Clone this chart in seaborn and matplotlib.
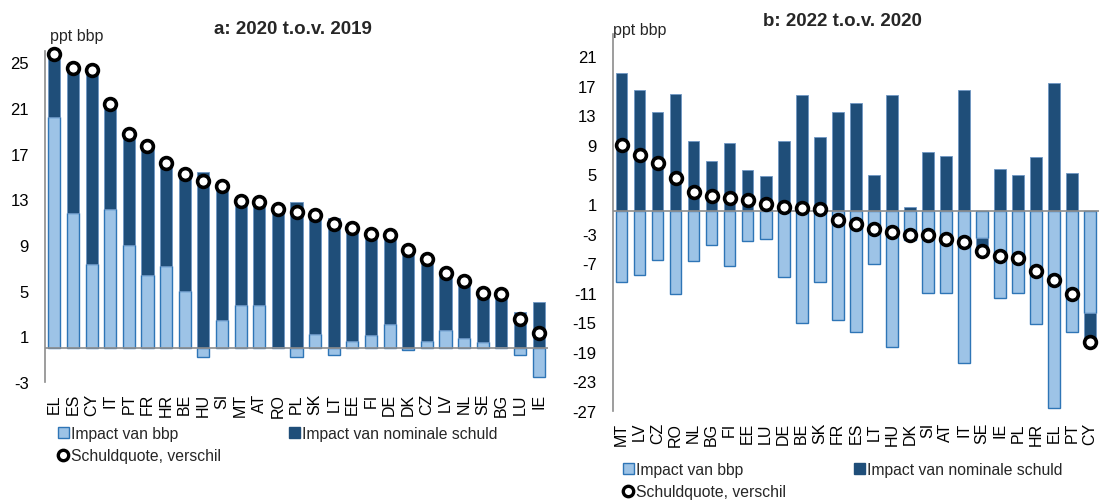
import numpy as np
import pandas as pd
import matplotlib
matplotlib.use("Agg")
import matplotlib.pyplot as plt
import seaborn as sns
from matplotlib.patches import Patch
from matplotlib.lines import Line2D

sns.set_theme(style="white")
plt.rcParams["font.family"] = ["Liberation Sans", "DejaVu Sans"]
plt.rcParams["axes.unicode_minus"] = False

# ---- Panel a: 2020 t.o.v. 2019 ----
countries_a = ["EL", "ES", "CY", "IT", "PT", "FR", "HR", "BE", "HU", "SI", "MT", "AT", "RO",
               "PL", "SK", "LT", "EE", "FI", "DE", "DK", "CZ", "LV", "NL", "SE", "BG", "LU", "IE"]
gdp_a = [20.2, 11.8, 7.3, 12.2, 9.0, 6.35, 7.15, 5.0, -0.8, 2.4, 3.75, 3.75, 0.1,
         -0.8, 1.2, -0.6, 0.6, 1.1, 2.1, -0.2, 0.6, 1.55, 0.85, 0.5, 0.05, -0.6, -2.6]
debt_a = [5.5, 12.7, 17.05, 9.2, 9.7, 11.3, 9.05, 10.2, 15.4, 11.8, 9.1, 9.0, 12.1,
          12.8, 10.4, 11.4, 9.9, 8.9, 7.75, 8.8, 7.2, 5.0, 5.0, 4.3, 4.7, 3.15, 4.0]
total_a = [25.7, 24.5, 24.35, 21.4, 18.7, 17.65, 16.2, 15.2, 14.6, 14.2, 12.85, 12.75, 12.2,
           11.9, 11.6, 10.8, 10.5, 10.0, 9.85, 8.6, 7.8, 6.55, 5.85, 4.8, 4.75, 2.5, 1.3]

# ---- Panel b: 2022 t.o.v. 2020 ----
countries_b = ["MT", "LV", "CZ", "RO", "NL", "BG", "FI", "EE", "LU", "DE", "BE", "SK", "FR",
               "ES", "LT", "HU", "DK", "SI", "AT", "IT", "SE", "IE", "PL", "HR", "EL", "PT", "CY"]
gdp_b = [-9.6, -8.6, -6.6, -11.2, -6.7, -4.6, -7.4, -4.0, -3.7, -8.9, -15.1, -9.6, -14.7,
         -16.3, -7.15, -18.4, -3.8, -11.1, -11.05, -20.45, -3.65, -11.7, -11.1, -15.2, -26.6, -16.3, -13.7]
debt_b = [18.7, 16.4, 13.4, 15.85, 9.5, 6.8, 9.3, 5.6, 4.8, 9.5, 15.7, 10.0, 13.5,
          14.7, 4.95, 15.7, 0.6, 8.0, 7.5, 16.45, -1.65, 5.8, 4.9, 7.3, 17.4, 5.2, -3.9]
total_b = [9.05, 7.6, 6.6, 4.55, 2.6, 2.1, 1.75, 1.5, 1.0, 0.55, 0.4, 0.35, -1.2,
           -1.65, -2.35, -2.75, -3.25, -3.25, -3.7, -4.2, -5.3, -6.0, -6.25, -8.0, -9.3, -11.2, -17.6]

LIGHT = "#9dc3e6"
LIGHT_EDGE = "#2e75b6"
DARK = "#1f4e79"
DARK_EDGE = "#6f97c4"

W, H = 1099, 502


def draw_panel(ax, countries, gdp, debt, total, ylim, ticks):
    gdp = np.array(gdp)
    debt = np.array(debt)
    bottom = np.where(np.sign(gdp) == np.sign(debt), gdp, 0.0)
    df = pd.DataFrame({"land": countries, "gdp": gdp, "debt": debt, "total": total})
    sns.barplot(data=df, x="land", y="gdp", order=countries, color=LIGHT, saturation=1,
                edgecolor=LIGHT_EDGE, linewidth=1.0, width=0.65, errorbar=None, ax=ax)
    sns.barplot(data=df, x="land", y="debt", order=countries, color=DARK, saturation=1,
                edgecolor=DARK_EDGE, linewidth=0.6, width=0.65, errorbar=None, ax=ax,
                bottom=bottom)
    ax.axhline(0, color="#8c8c8c", lw=1.2, zorder=2.5)
    sns.stripplot(data=df, x="land", y="total", order=countries, jitter=False,
                  color="white", edgecolor="black", linewidth=2.6, size=8.5, ax=ax, zorder=4)
    for c in ax.collections:
        c.set_clip_on(False)
    ax.set_xlim(-0.5, len(countries) - 0.5)
    ax.set_ylim(*ylim)
    ax.set_yticks(ticks)
    ax.set_xlabel("")
    ax.set_ylabel("")
    for s in ["top", "right", "bottom"]:
        ax.spines[s].set_visible(False)
    ax.spines["left"].set_color("#8c8c8c")
    ax.spines["left"].set_linewidth(1.2)
    ax.tick_params(axis="y", length=0, labelsize=12, pad=11.5, colors="black")
    ax.tick_params(axis="x", length=0, labelsize=11.5, labelrotation=90, pad=8, colors="black")
    for lbl in ax.get_xticklabels():
        lbl.set_verticalalignment("top")


fig = plt.figure(figsize=(W / 100, H / 100), dpi=100)
ax1 = fig.add_axes([45 / W, 1 - 383 / H, 503 / W, 331 / H])
ax2 = fig.add_axes([612.5 / W, 1 - 412 / H, 486.5 / W, 377 / H])

draw_panel(ax1, countries_a, gdp_a, debt_a, total_a, (-3, 26), np.arange(-3, 26, 4))
draw_panel(ax2, countries_b, gdp_b, debt_b, total_b, (-27, 24), np.arange(-27, 24, 4))

fig.text(293 / W, 1 - 30 / H, "a: 2020 t.o.v. 2019", fontsize=13.5, fontweight="bold",
         ha="center", va="center")
fig.text(842 / W, 1 - 21 / H, "b: 2022 t.o.v. 2020", fontsize=13.5, fontweight="bold",
         ha="center", va="center")
fig.text(50 / W, 1 - 36 / H, "ppt bbp", fontsize=11.5, ha="left", va="center")
fig.text(613 / W, 1 - 31 / H, "ppt bbp", fontsize=11.5, ha="left", va="center")

handles = [Patch(facecolor=LIGHT, edgecolor=LIGHT_EDGE, linewidth=1.0, label="Impact van bbp"),
           Line2D([], [], marker="o", linestyle="none", markerfacecolor="white",
                  markeredgecolor="black", markeredgewidth=2.4, markersize=7.5,
                  label="Schuldquote, verschil"),
           Patch(facecolor=DARK, edgecolor=DARK, label="Impact van nominale schuld")]

leg_kws = dict(ncol=2, frameon=False, fontsize=11.3, handlelength=0.7, handleheight=0.7,
               handletextpad=0.15, columnspacing=4.3, labelspacing=0.45, borderaxespad=0,
               borderpad=0)
leg1 = fig.legend(handles=handles, loc="upper left", **leg_kws)
leg1.set_bbox_to_anchor((58 / W, 1 - 427 / H), transform=fig.transFigure)
leg2 = fig.legend(handles=handles, loc="upper left", **leg_kws)
leg2.set_bbox_to_anchor((623 / W, 1 - 463 / H), transform=fig.transFigure)

fig.savefig("out.png", dpi=100)
